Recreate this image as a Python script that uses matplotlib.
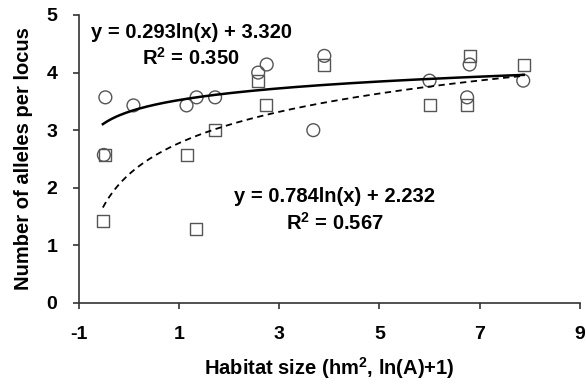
import numpy as np
import matplotlib
matplotlib.use("Agg")
import matplotlib.pyplot as plt

plt.rcParams['font.family'] = ['Liberation Sans', 'DejaVu Sans']
plt.rcParams['font.weight'] = 'bold'
plt.rcParams['mathtext.fontset'] = 'custom'
plt.rcParams['mathtext.bf'] = 'Liberation Sans:bold'
plt.rcParams['mathtext.rm'] = 'Liberation Sans:bold'
plt.rcParams['mathtext.default'] = 'bf'

# Data
circle_x = [-0.47, 0.09, 1.15, 1.35, 1.72, 2.58, 2.75, 3.90, 3.68, -0.50, 6.00, 6.80, 6.75, 7.87]
circle_y = [3.57, 3.43, 3.43, 3.57, 3.57, 4.00, 4.14, 4.29, 3.00, 2.57, 3.86, 4.14, 3.57, 3.86]
square_x = [-0.48, 1.15, 1.72, 2.57, 2.73, 3.90, 6.80, 6.00, 6.75, 7.88, -0.52, 1.33]
square_y = [2.57, 2.57, 3.00, 3.86, 3.43, 4.14, 4.29, 3.43, 3.43, 4.14, 1.43, 1.29]

# Trend line coefficients (as shown on chart)
solid_a, solid_b = 0.293, 3.320
dashed_a, dashed_b = 0.784, 2.232

x_ticks = [-1, 1, 3, 5, 7, 9]
y_ticks = [0, 1, 2, 3, 4, 5]

fig = plt.figure(figsize=(5.86, 3.84), dpi=100)
ax = fig.add_axes([0.1345, 0.211, 0.855, 0.75])

ax.scatter(square_x, square_y, marker='s', s=80, facecolors='white',
           edgecolors='#555555', linewidths=1.0, zorder=3)
ax.scatter(circle_x, circle_y, marker='o', s=85, facecolors='none',
           edgecolors='#555555', linewidths=1.0, zorder=4)

xs = np.linspace(min(circle_x + square_x), max(circle_x + square_x), 200)
ax.plot(xs, solid_a * np.log(xs + 1) + solid_b, color='black', lw=1.8, zorder=5)
ax.plot(xs, dashed_a * np.log(xs + 1) + dashed_b, color='black', lw=1.3,
        dashes=(3.5, 2.5), zorder=5)

fs = 14.5
ax.text(1.24, 4.70, 'y = 0.293ln(x) + 3.320', ha='center', va='center',
        fontsize=fs, fontweight='bold')
ax.text(1.24, 4.25, r'R$^{\mathbf{2}}$ = 0.350', ha='center', va='center',
        fontsize=fs, fontweight='bold')
ax.text(4.11, 1.85, 'y = 0.784ln(x) + 2.232', ha='center', va='center',
        fontsize=fs, fontweight='bold')
ax.text(4.11, 1.39, r'R$^{\mathbf{2}}$ = 0.567', ha='center', va='center',
        fontsize=fs, fontweight='bold')

ax.set_xlim(-1, 9)
ax.set_ylim(0, 5)
ax.set_xticks(x_ticks)
ax.set_yticks(y_ticks)
ax.set_xticklabels([str(t) for t in x_ticks], fontsize=14, fontweight='bold')
ax.set_yticklabels([str(t) for t in y_ticks], fontsize=14, fontweight='bold')
ax.tick_params(axis='both', direction='out', length=4.5, width=1.2, color='#333333')
ax.tick_params(axis='x', pad=12)
ax.tick_params(axis='y', pad=11)

for s in ['top', 'right']:
    ax.spines[s].set_visible(False)
for s in ['left', 'bottom']:
    ax.spines[s].set_color('#333333')
    ax.spines[s].set_linewidth(1.2)

ax.set_xlabel(r'Habitat size (hm$^{\mathbf{2}}$, ln(A)+1)', fontsize=14.5,
              fontweight='bold', labelpad=9)
ax.set_ylabel('Number of alleles per locus', fontsize=14.5, fontweight='bold', labelpad=10)

fig.savefig('out.png', dpi=100)
